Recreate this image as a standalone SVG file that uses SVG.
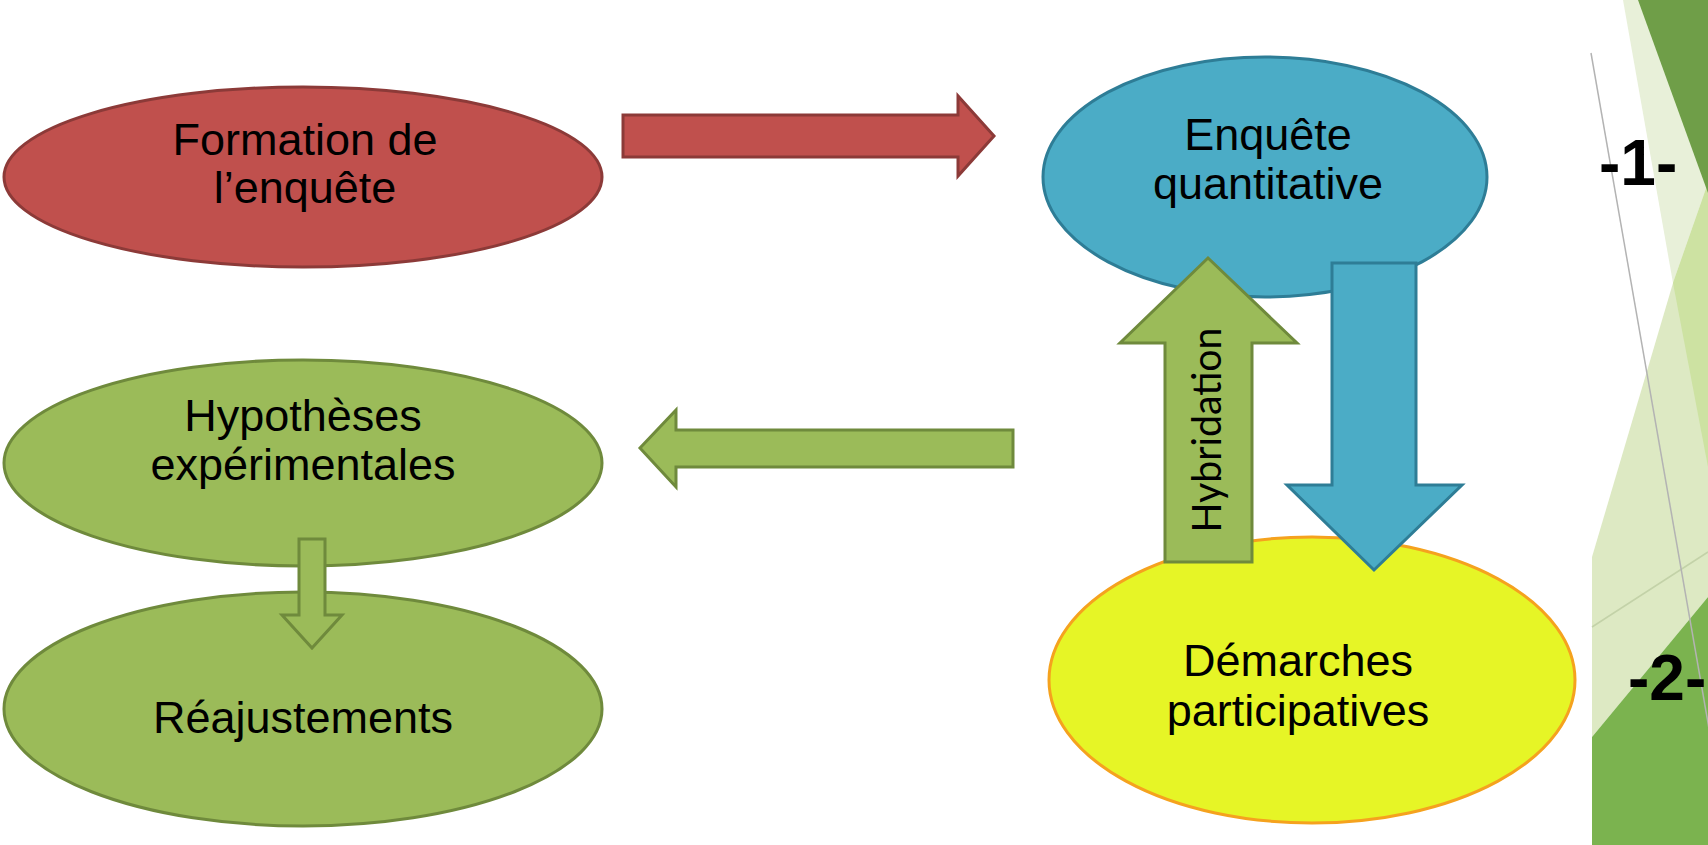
<svg xmlns="http://www.w3.org/2000/svg" width="1708" height="845" viewBox="0 0 1708 845">
<style>
.lbl{font-family:"Liberation Sans",Arial,sans-serif;font-size:45px;fill:#000;text-anchor:middle}
.num{font-family:"Liberation Sans",Arial,sans-serif;font-size:64px;font-weight:bold;fill:#000}
.red{fill:#c0504d;stroke:#8c3a38;stroke-width:3}
.blue{fill:#4bacc6;stroke:#2e7d96;stroke-width:3}
.green{fill:#9bbb59;stroke:#6f8a3c;stroke-width:3}
.yellow{fill:#e6f526;stroke:#f5a21e;stroke-width:3}
</style>
<rect width="1708" height="845" fill="#ffffff"/>
<g id="decoration">
<polygon points="1623,0 1708,0 1708,183 1673,283" fill="#e8f0d9"/>
<polygon points="1673,283 1708,183 1708,597 1592,737 1592,557" fill="#dde9c3"/>
<polygon points="1708,183 1673,283 1708,467" fill="#cde2a2"/>
<polygon points="1638,0 1708,0 1708,193" fill="#6f9e48"/>
<polygon points="1592,737 1708,597 1708,845 1592,845" fill="#7bb34f"/>
<line x1="1592" y1="627" x2="1708" y2="552" stroke="#c3d2a8" stroke-width="1.5"/>
<line x1="1591" y1="53" x2="1711" y2="740" stroke="#b3b3b3" stroke-width="1.5"/>
<text class="num" x="1599" y="185">-1-</text>
<text class="num" x="1628" y="700">-2-</text>
</g>
<g id="node-formation">
<ellipse class="red" cx="303" cy="177" rx="299" ry="90"/>
<text class="lbl" x="305" y="155">Formation de</text>
<text class="lbl" x="305" y="203">l’enquête</text>
</g>
<g id="node-hypotheses">
<ellipse class="green" cx="303" cy="463" rx="299" ry="103"/>
<text class="lbl" x="303" y="431">Hypothèses</text>
<text class="lbl" x="303" y="480">expérimentales</text>
</g>
<g id="node-reajustements">
<ellipse class="green" cx="303" cy="709" rx="299" ry="117"/>
<text class="lbl" x="303" y="733">Réajustements</text>
</g>
<g id="node-enquete">
<ellipse class="blue" cx="1265" cy="177" rx="222" ry="120"/>
<text class="lbl" x="1268" y="150">Enquête</text>
<text class="lbl" x="1268" y="199">quantitative</text>
</g>
<g id="node-demarches">
<ellipse class="yellow" cx="1312" cy="680" rx="263" ry="143"/>
<text class="lbl" x="1298" y="676">Démarches</text>
<text class="lbl" x="1298" y="726">participatives</text>
</g>
<g id="connectors">
<polygon class="red" points="623,115 958,115 958,96 994,136 958,176 958,157 623,157"/>
<polygon class="green" points="1013,430 676,430 676,410 640,448 676,487 676,467 1013,467"/>
<polygon class="green" points="299,539 325,539 325,615 342,615 312,648 282,615 299,615"/>
<polygon class="blue" points="1332,263 1416,263 1416,485 1462,485 1374,570 1287,485 1332,485"/>
<polygon class="green" points="1165,562 1165,343 1120,343 1208,258 1297,343 1252,343 1252,562"/>
<text x="1221" y="430" transform="rotate(-90 1221 430)" font-family="Lato,'Open Sans',sans-serif" font-size="40" text-anchor="middle" textLength="205" lengthAdjust="spacingAndGlyphs" fill="#000">Hybridation</text>
</g>
</svg>
